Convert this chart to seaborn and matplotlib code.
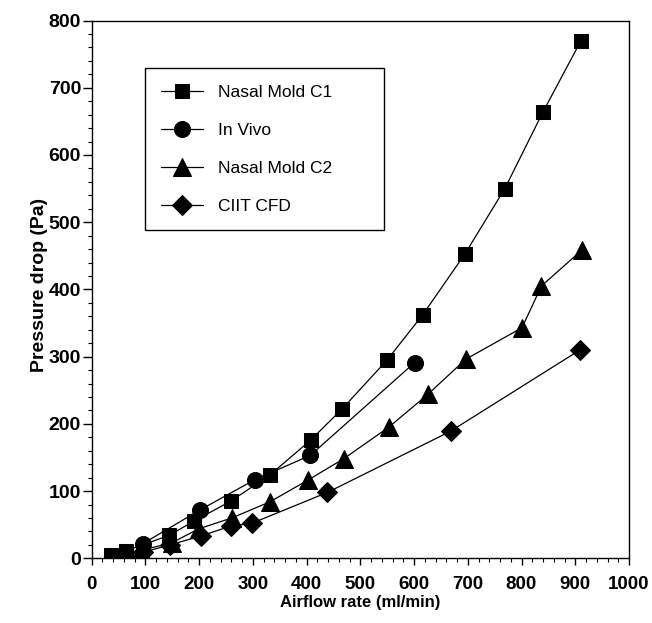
import matplotlib
matplotlib.use("Agg")
import matplotlib.pyplot as plt
from matplotlib.ticker import MultipleLocator
import seaborn as sns
import pandas as pd

# ---- data ----
c1_x = [37, 64, 144, 190, 259, 332, 408, 466, 550, 616, 695, 769, 840, 910]
c1_y = [5, 11, 34, 55, 85, 124, 176, 222, 295, 362, 453, 550, 664, 769]

vivo_x = [96, 202, 304, 407, 601]
vivo_y = [22, 72, 117, 153, 291]

c2_x = [93, 149, 200, 261, 332, 402, 469, 553, 626, 696, 801, 837, 913]
c2_y = [12, 23, 44, 60, 84, 116, 148, 195, 244, 296, 343, 405, 459]

cfd_x = [96, 146, 203, 259, 298, 439, 668, 909]
cfd_y = [9, 20, 33, 48, 52, 98, 189, 310]

labels = ["Nasal Mold C1", "In Vivo", "Nasal Mold C2", "CIIT CFD"]
xs = [c1_x, vivo_x, c2_x, cfd_x]
ys = [c1_y, vivo_y, c2_y, cfd_y]
markers = ["s", "o", "^", "D"]
msizes = [10.5, 11.5, 12.5, 9.8]

sns.set_theme(style="white")
plt.rcParams["font.family"] = ["Liberation Sans", "DejaVu Sans"]
plt.rcParams.update({"text.color": "black", "axes.labelcolor": "black",
                     "xtick.color": "black", "ytick.color": "black",
                     "axes.edgecolor": "black"})

fig = plt.figure(figsize=(6.52, 6.23), dpi=100)
W, H = 652, 623
x0, x1, yt, yb = 91.5, 629, 20.5, 558.3
ax = fig.add_axes([x0 / W, 1 - yb / H, (x1 - x0) / W, (yb - yt) / H])

for lab, x, y, m, ms in zip(labels, xs, ys, markers, msizes):
    df = pd.DataFrame({"x": x, "y": y})
    sns.lineplot(data=df, x="x", y="y", ax=ax, color="black", linewidth=0.9,
                 marker=m, markersize=ms, markeredgecolor="black",
                 markerfacecolor="black", label=lab, sort=False)

ax.set_xlim(0, 1000)
ax.set_ylim(0, 800)
ax.xaxis.set_major_locator(MultipleLocator(100))
ax.xaxis.set_minor_locator(MultipleLocator(20))
ax.yaxis.set_major_locator(MultipleLocator(100))
ax.yaxis.set_minor_locator(MultipleLocator(20))
ax.tick_params(axis="x", which="major", direction="out", length=5, width=1,
               color="black", labelcolor="black", bottom=True, labelsize=13.5, pad=8)
ax.tick_params(axis="y", which="major", direction="out", length=6.5, width=1,
               color="black", labelcolor="black", left=True, labelsize=14, pad=1)
ax.tick_params(axis="both", which="minor", direction="out", length=2.8, width=0.8,
               color="black", bottom=True, left=True)
for t in ax.get_xticklabels() + ax.get_yticklabels():
    t.set_fontweight("bold")
for s in ax.spines.values():
    s.set_color("black")
    s.set_linewidth(1.0)

ax_w, ax_h = x1 - x0, yb - yt
ax.set_xlabel("Airflow rate (ml/min)", fontsize=12, fontweight="bold", color="black")
ax.set_ylabel("Pressure drop (Pa)", fontsize=14, fontweight="bold", color="black")
ax.xaxis.set_label_coords(0.5, (yb - 595) / ax_h)
ax.yaxis.set_label_coords((47.5 - x0) / ax_w, (yb - 284.5) / ax_h)

handles, labs = ax.get_legend_handles_labels()
lx0 = (145 - x0) / ax_w
ly1 = (yb - 68) / ax_h
lw = (384 - 145) / ax_w
lh = (239 - 68) / ax_h
leg = ax.legend(handles, labs, loc="upper left",
                bbox_to_anchor=(lx0, ly1 - lh, lw, lh), mode="expand",
                borderaxespad=0, frameon=True, fancybox=False, framealpha=1,
                edgecolor="black", fontsize=12.5, labelspacing=1.32,
                handlelength=2.4, handletextpad=0.85, borderpad=0.95,
                labelcolor="black")
leg.get_frame().set_linewidth(1.0)

fig.savefig("out.png", dpi=100, facecolor="white")
